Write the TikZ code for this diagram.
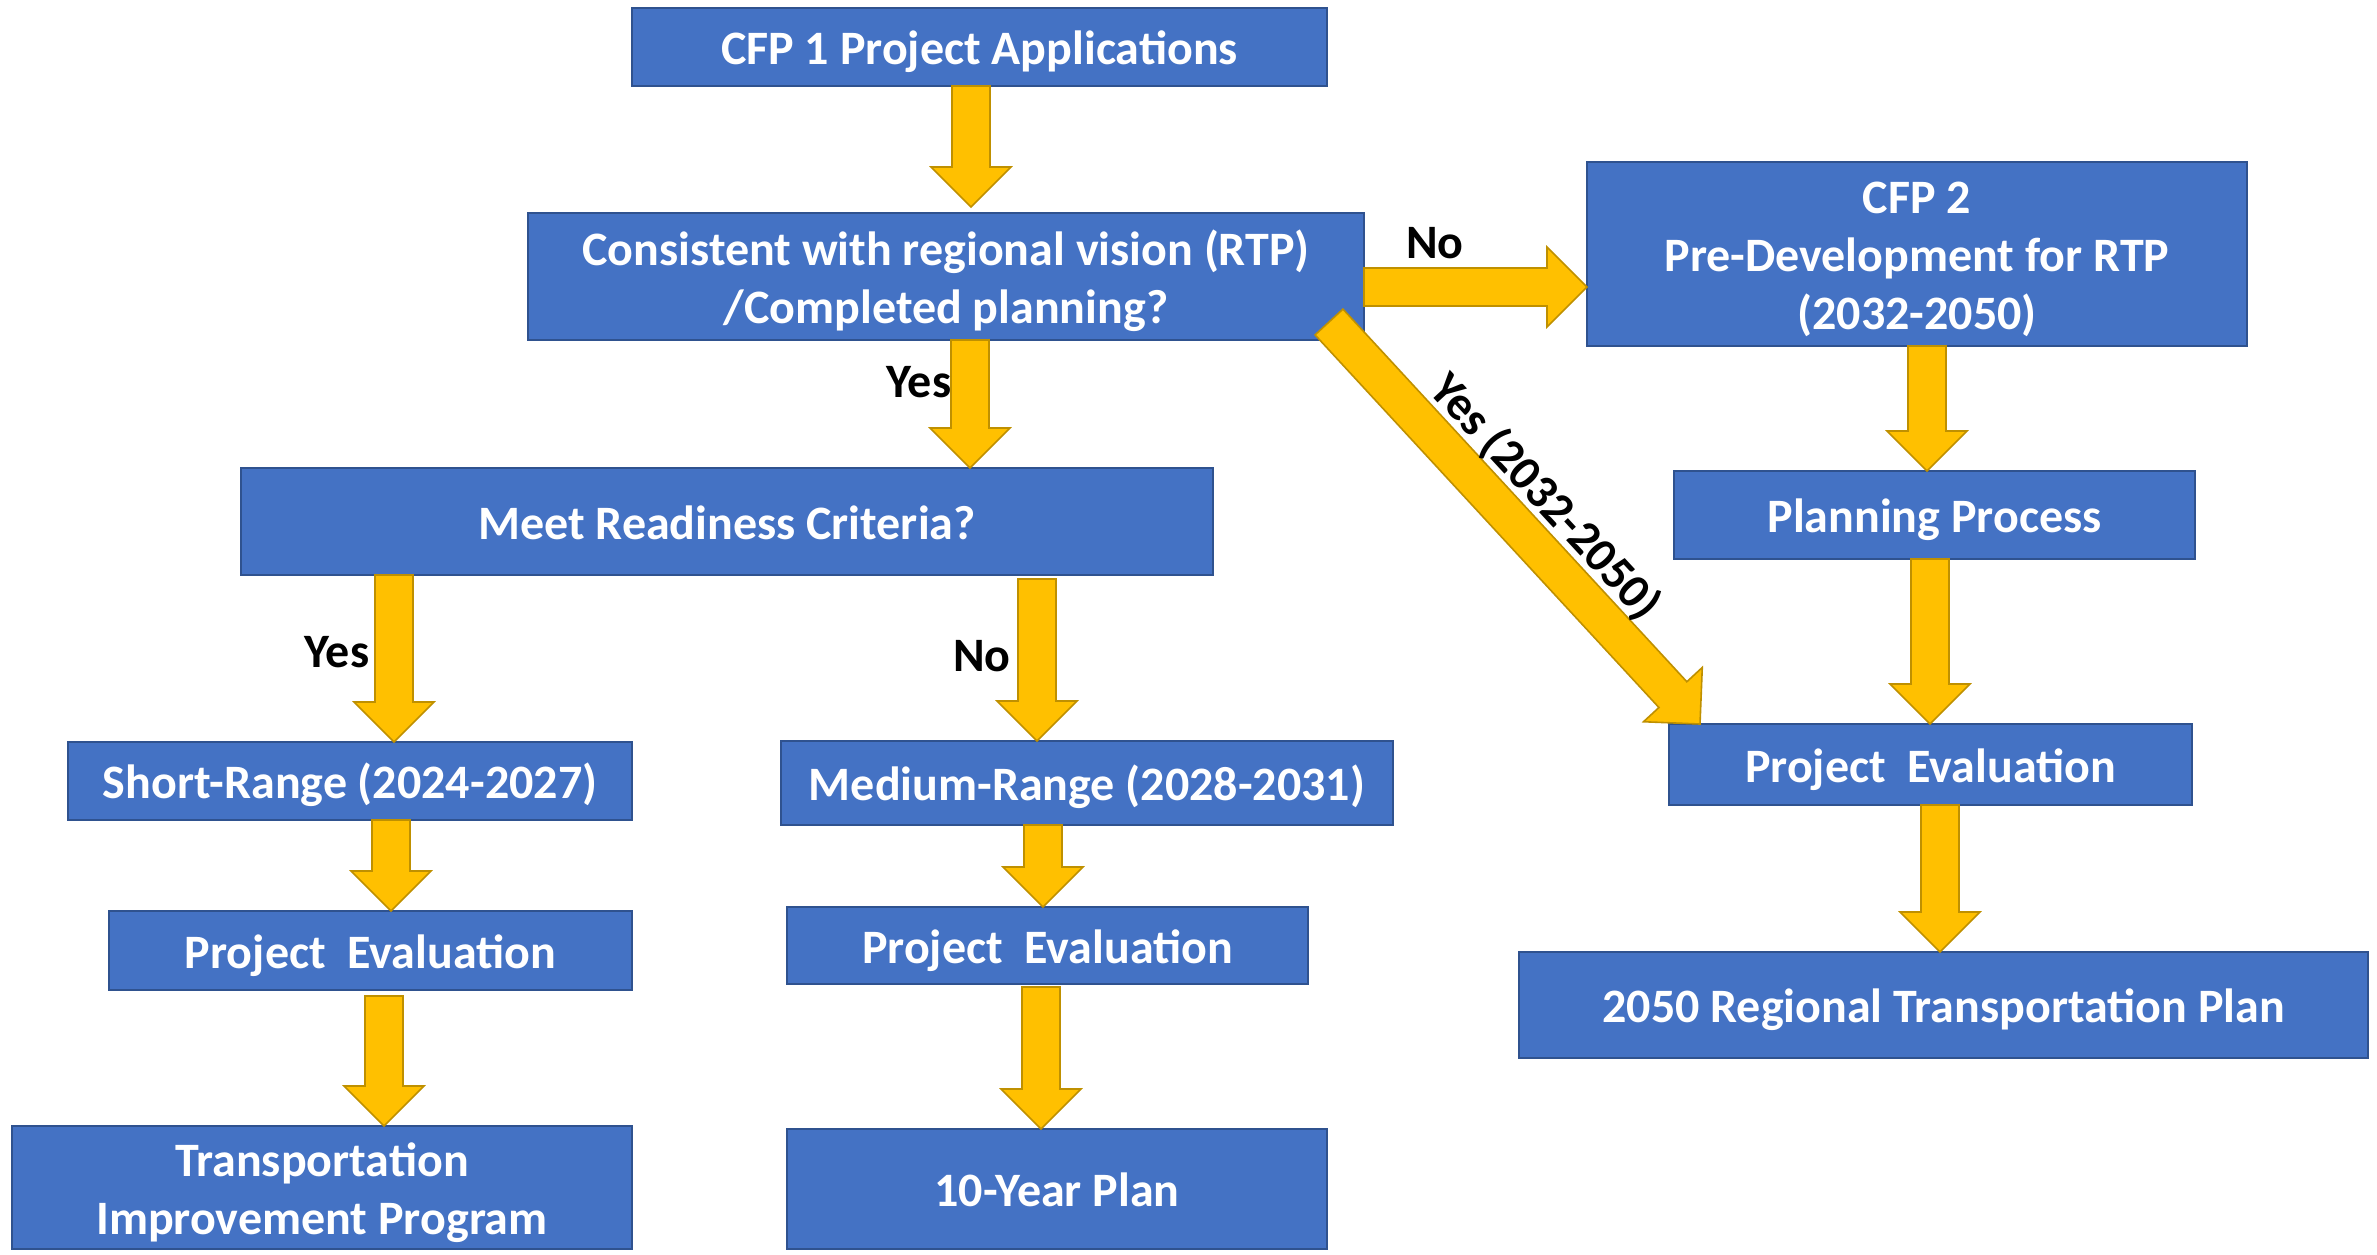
\documentclass[tikz,border=0pt]{standalone}
\usepackage{fontspec}
\setmainfont{Carlito}
\usetikzlibrary{calc}
\definecolor{boxfill}{HTML}{4472C4}
\definecolor{boxline}{HTML}{2F528F}
\definecolor{arrfill}{HTML}{FFC000}
\definecolor{arrline}{HTML}{BF9000}
\def\asw{9.5pt}
\def\ahw{20pt}
\def\ahl{20pt}
\newcommand\strt{\rule[-5.5pt]{0pt}{28.5pt}}
\newcommand\blockarrow[2]{%
  \coordinate (bh) at ($(#2)!\ahl!(#1)$);
  \filldraw[arr] ($(#1)!\asw!90:(#2)$) -- ($(bh)!\asw!-90:(#1)$) -- ($(bh)!\ahw!-90:(#1)$) -- (#2)
    -- ($(bh)!\ahw!90:(#1)$) -- ($(bh)!\asw!90:(#1)$) -- ($(#1)!\asw!-90:(#2)$) -- cycle;}
\begin{document}
\begin{tikzpicture}[x=0.5pt,y=-0.5pt,
  box/.style={draw=boxline, fill=boxfill, line width=1pt, inner sep=0pt, outer sep=0pt,
    text=white, font=\fontsize{24}{29}\selectfont\bfseries, align=center},
  arr/.style={fill=arrfill, draw=arrline, line width=0.8pt, line join=miter},
  lbl/.style={text=black, font=\fontsize{24}{29}\selectfont\bfseries, inner sep=0pt}]
\useasboundingbox[fill=white] (0,0) rectangle (2377,1254);

\node[box, minimum width=347.5pt, minimum height=39pt] (cfp1) at (979.5,47) {\strt CFP 1 Project Applications};
\node[box, minimum width=418pt, minimum height=63.5pt] (cons) at (946,276.5) {\strt Consistent with regional vision (RTP)\\\strt /Completed planning?};
\node[box, minimum width=330pt, minimum height=92pt] (cfp2) at (1917,254) {\strt CFP 2\\\strt Pre-Development for RTP\\\strt (2032-2050)};
\node[box, minimum width=486pt, minimum height=53.5pt] (meet) at (727,521.5) {\strt Meet Readiness Criteria?};
\node[box, minimum width=260.5pt, minimum height=44pt] (plan) at (1934.5,515) {\strt Planning Process};
\node[box, minimum width=261.5pt, minimum height=40.5pt] (per) at (1930.5,764.5) {\strt Project\ \ Evaluation};
\node[box, minimum width=424.5pt, minimum height=53pt] (rtp) at (1943.5,1005) {\strt 2050 Regional Transportation Plan};
\node[box, minimum width=282pt, minimum height=39pt] (short) at (350,781) {\strt Short-Range (2024-2027)};
\node[box, minimum width=306pt, minimum height=42pt] (medium) at (1087,783) {\strt Medium-Range (2028-2031)};
\node[box, minimum width=261.5pt, minimum height=39.5pt] (pel) at (370.5,950.5) {\strt Project\ \ Evaluation};
\node[box, minimum width=260.5pt, minimum height=38.5pt] (pem) at (1047.5,945.5) {\strt Project\ \ Evaluation};
\node[box, minimum width=310pt, minimum height=61.5pt] (tip) at (322,1187.5) {\strt Transportation\\\strt Improvement Program};
\node[box, minimum width=270pt, minimum height=60pt] (ten) at (1057,1189) {\strt 10-Year Plan};

\coordinate (a1s) at (971,0 |- cfp1.south);
\coordinate (a1e) at ([yshift=3pt]971,0 |- cons.north);
\coordinate (a2s) at (970,0 |- cons.south);
\coordinate (a2e) at (970,0 |- meet.north);
\coordinate (a3s) at (0,287 -| cons.east);
\coordinate (a3e) at (0,287 -| cfp2.west);
\coordinate (a4s) at ([shift={(-35,-18)}]cons.south east);
\coordinate (a4e) at ([shift={(31,0)}]per.north west);
\coordinate (a5s) at (1927,0 |- cfp2.south);
\coordinate (a5e) at (1927,0 |- plan.north);
\coordinate (a6s) at (1930,0 |- plan.south);
\coordinate (a6e) at (1930,0 |- per.north);
\coordinate (a7s) at (1940,0 |- per.south);
\coordinate (a7e) at (1940,0 |- rtp.north);
\coordinate (a8s) at (394,0 |- meet.south);
\coordinate (a8e) at (394,0 |- short.north);
\coordinate (a9s) at ([yshift=-2pt]1037,0 |- meet.south);
\coordinate (a9e) at (1037,0 |- medium.north);
\coordinate (a10s) at (391,0 |- short.south);
\coordinate (a10e) at (391,0 |- pel.north);
\coordinate (a11s) at ([yshift=-3pt]384,0 |- pel.south);
\coordinate (a11e) at (384,0 |- tip.north);
\coordinate (a12s) at (1043,0 |- medium.south);
\coordinate (a12e) at (1043,0 |- pem.north);
\coordinate (a13s) at ([yshift=-1.5pt]1041,0 |- pem.south);
\coordinate (a13e) at (1041,0 |- ten.north);

\blockarrow{a1s}{a1e}
\blockarrow{a2s}{a2e}
\blockarrow{a3s}{a3e}
\blockarrow{a4s}{a4e}
\blockarrow{a5s}{a5e}
\blockarrow{a6s}{a6e}
\blockarrow{a7s}{a7e}
\blockarrow{a8s}{a8e}
\blockarrow{a9s}{a9e}
\blockarrow{a10s}{a10e}
\blockarrow{a11s}{a11e}
\blockarrow{a12s}{a12e}
\blockarrow{a13s}{a13e}

\node[lbl] (l1) at (919,382) {Yes};
\node[lbl] (l2) at (1435,243) {No};
\node[lbl] (l3) at (337,652) {Yes};
\node[lbl] (l4) at (982,656) {No};
\node[lbl, rotate=-47.3] (l5) at (1545,497) {Yes (2032-2050)};
\end{tikzpicture}
\end{document}
